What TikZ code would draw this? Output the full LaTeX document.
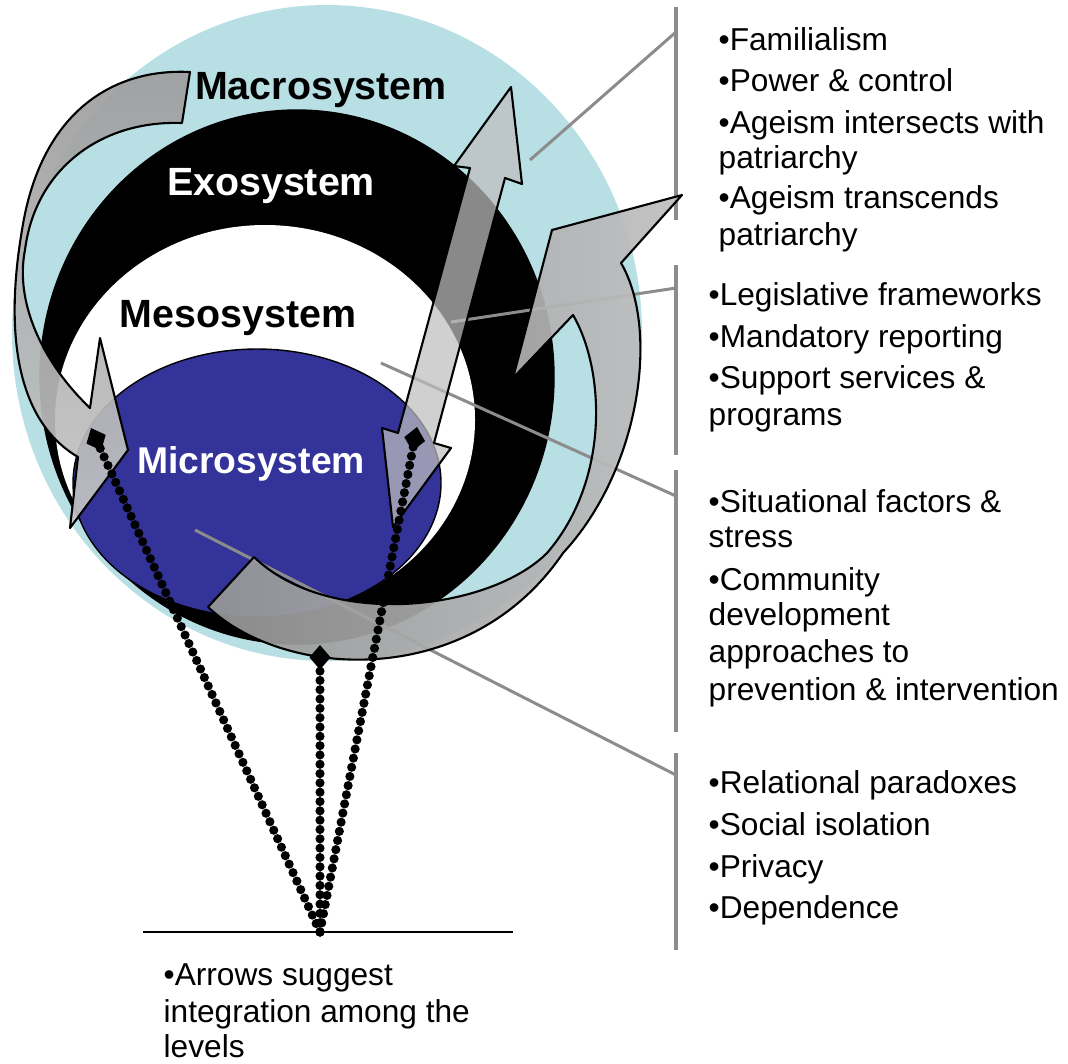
\documentclass[tikz,border=0pt]{standalone}
\usepackage{fontspec}
\setmainfont{Liberation Sans}
\usetikzlibrary{arrows.meta}
\definecolor{macrocyan}{RGB}{184,223,227}
\definecolor{microblue}{RGB}{51,51,153}
\tikzset{ribbon/.style={draw=black,line width=0.6pt,fill=black!25,fill opacity=0.72,line join=round},
         leader/.style={draw=black!45,line width=0.85pt},
         beads/.style={line width=2.6pt,dash pattern=on 0pt off 2.65pt,line cap=round,-{Diamond[length=7pt,width=6pt]}},
         level/.style={font=\bfseries\fontsize{11.2}{13}\selectfont,anchor=base,inner sep=0pt},
         item/.style={font=\fontsize{9}{11}\selectfont,anchor=base west,inner sep=0pt}}

\begin{document}
\begin{tikzpicture}[x=0.01cm,y=-0.01cm]
                  \useasboundingbox (0,0) rectangle (1068,1063);
                  % the four levels
                  \fill[macrocyan] (327,333) ellipse [x radius=315,y radius=328];
                  \draw[fill=black] (297,377) ellipse [x radius=257,y radius=267];
                  \fill[white] (265,420) ellipse [x radius=210,y radius=195];
                  \draw[fill=microblue] (257,483) ellipse [x radius=184,y radius=134];
                  \node[level] (macro) at (321,99) {Macrosystem};
                  \node[level,white] (exo) at (271,195) {Exosystem};
                  \node[level] (meso) at (238,327) {Mesosystem};
                  \node[level,white,font=\bfseries\fontsize{10.6}{12}\selectfont] (micro) at (251,473) {Microsystem};
                  % brackets and leaders
                  \foreach \a/\b in {7/220,265/455,470/732,753/950}
                    \draw[leader,line width=1pt] (676,\a) -- (676,\b);
                  \foreach \i/\px/\py/\qy in {1/530/160/32,2/451/322/288,3/381/363/496,4/195/530/775}{
                    \coordinate (p\i) at (\px,\py);
                    \coordinate (q\i) at (676,\qy);
                    \draw[leader] (p\i) -- (q\i);
                  }
                  % arrows between the levels
                  \draw[ribbon,top color=black!42,bottom color=black!22] (190,72) .. controls (110,68) and (40,115) .. (22,230)
                       .. controls (5,330) and (15,420) .. (78,457) -- (70,528) -- (128,450) -- (100,338) -- (90,408)
                       .. controls (40,360) and (15,300) .. (25,250) .. controls (35,170) and (100,120) .. (182,123) -- cycle;
                  \draw[ribbon,left color=black!45,right color=black!25] (208,607) .. controls (285,680) and (470,690) .. (563,553)
                       .. controls (640,470) and (660,330) .. (621,263) -- (682,195) -- (552,230) -- (513,378) -- (573,315)
                       .. controls (605,370) and (610,480) .. (547,553) .. controls (490,610) and (330,630) .. (254,557) -- cycle;
                  \draw[ribbon] (511,87) -- (522,184) -- (505,178) -- (434,443) -- (451,448) -- (393,527)
                       -- (382,428) -- (398,433) -- (470,168) -- (454,166) -- cycle;
                  % dotted links
                  \coordinate (foot) at (320,932);
                  \coordinate (dl) at (91,428);
                  \coordinate (dm) at (320,645);
                  \coordinate (dr) at (417,427);
                  \draw[beads] (foot) -- (dl);
                  \draw[beads] (foot) -- (dm);
                  \draw[beads] (foot) -- (dr);
                  \draw[line width=0.5pt] (143,932) -- (513,932);
                  % bullet lists
                  \foreach \y/\txt in {50/{•Familialism},91/{•Power \& control},133/{•Ageism intersects with},
                                       168/{patriarchy},208/{•Ageism transcends},245/{patriarchy}}
                    \node[item] (f\y) at (718,\y) {\txt};
                  \foreach \y/\txt in {305/{•Legislative frameworks},347/{•Mandatory reporting},388/{•Support services \&},
                                       425/{programs},512/{•Situational factors \&},547/{stress},590/{•Community},
                                       625/{development},662/{approaches to},700/{prevention \& intervention},
                                       793/{•Relational paradoxes},835/{•Social isolation},877/{•Privacy},918/{•Dependence}}
                    \node[item] (s\y) at (708,\y) {\txt};
                  \foreach \y/\txt in {985/{•Arrows suggest},1022/{integration among the},1057/{levels}}
                    \node[item] (n\y) at (163,\y) {\txt};
              \end{tikzpicture}
\end{document}
